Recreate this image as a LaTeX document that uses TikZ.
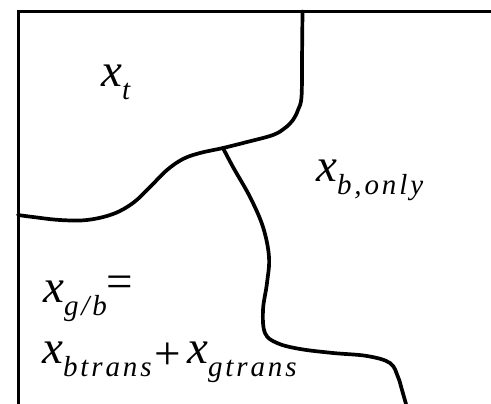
\documentclass[tikz,border=0pt]{standalone}
\usepackage{fontspec}
\setmainfont{Liberation Serif}
\newfontfamily\xitfam{LiberationSerif}[Extension=.ttf,UprightFont=*-Italic]
\newfontfamily\subfam{LiberationSerif}[Extension=.ttf,UprightFont=*-Italic,LetterSpace=10]
\newcommand\mainx{{\fontsize{47}{47}\xitfam x}}
\newcommand\subtxt[1]{\raisebox{-13pt}{\fontsize{29}{29}\subfam #1}}
\begin{document}
\begin{tikzpicture}[x=1pt,y=-1pt,
  frame/.style={line width=3pt},
  border/.style={line width=3.7pt,line join=round,line cap=round},
  lbl/.style={inner sep=0pt,anchor=base west}]
\useasboundingbox (0,0) rectangle (491,404);
\draw[frame] (18,404) -- (18,11.5) -- (491,11.5);
\coordinate (J) at (223,148);
\draw[border] plot[smooth,tension=0.6] coordinates {(302.5,11.5) (302,60) (301.5,97) (298,110) (293,120) (285,128) (273,135) (247,142) (223,148) (200,153) (183,159) (167,170) (150,187) (133,203) (113,214) (87,220) (60,220) (33,217) (18,215)};
\draw[border] plot[smooth,tension=0.6] coordinates {(J) (233,167) (250,197) (263,227) (269,257) (267,283) (263,310) (265,333) (277,343) (300,349) (333,353) (367,356) (390,363) (398,377) (402,390) (406,404)};
\node[lbl] (xt) at (101,87) {\mainx\subtxt{t}};
\node[lbl] (xb) at (316,182) {\mainx\subtxt{b,only}};
\node[lbl] (xg) at (43,302) {\mainx\subtxt{g/b}\raisebox{5pt}{\fontsize{47}{47}\selectfont =}};
\node[lbl] (xsum) at (42,363) {\mainx\subtxt{btrans}\kern3pt\raisebox{-6pt}{\fontsize{47}{47}\selectfont +}\kern6pt\mainx\subtxt{gtrans}};
\end{tikzpicture}
\end{document}
